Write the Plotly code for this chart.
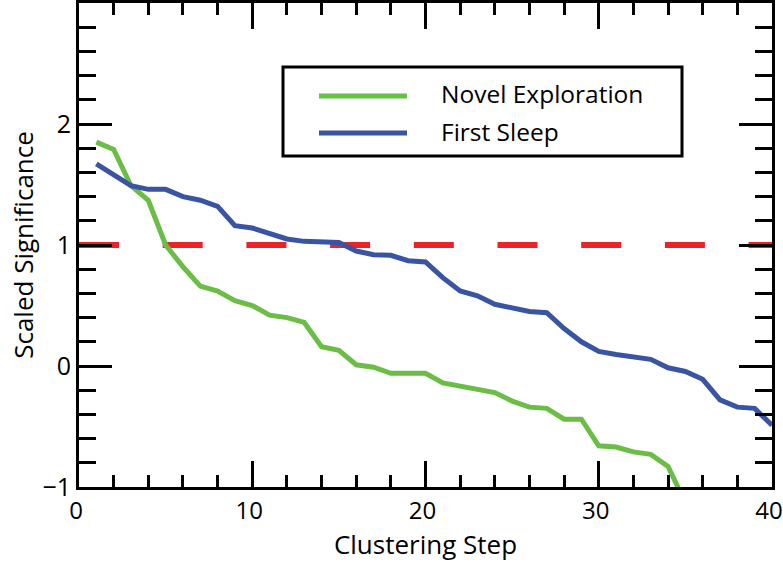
import plotly.graph_objects as go

# Data
steps_novel = list(range(1, 36))
novel_exploration = [1.85, 1.79, 1.49, 1.37, 1.00, 0.82, 0.66, 0.62, 0.54, 0.50,
                     0.42, 0.40, 0.36, 0.16, 0.13, 0.01, -0.01, -0.06, -0.06, -0.06,
                     -0.14, -0.17, -0.19, -0.22, -0.29, -0.34, -0.35, -0.44, -0.44, -0.66,
                     -0.67, -0.71, -0.73, -0.83, -1.13]
steps_sleep = list(range(1, 41))
first_sleep = [1.67, 1.58, 1.49, 1.46, 1.46, 1.40, 1.37, 1.32, 1.16, 1.14,
               1.10, 1.05, 1.03, 1.025, 1.02, 0.95, 0.92, 0.915, 0.87, 0.86,
               0.73, 0.62, 0.58, 0.51, 0.48, 0.45, 0.44, 0.31, 0.20, 0.12,
               0.095, 0.07, 0.055, -0.015, -0.045, -0.11, -0.28, -0.34, -0.35, -0.49]
threshold_x = [0, 40]
threshold_y = [1, 1]
series_names = ["Novel Exploration", "First Sleep"]
x_tickvals = [0, 10, 20, 30, 40]
y_tickvals = [-1, 0, 1, 2]

GREEN = "#6abd45"
BLUE = "#3a54a4"
RED = "#ec2227"
FONT = "Open Sans"

fig = go.Figure()
fig.add_trace(go.Scatter(x=threshold_x, y=threshold_y, mode="lines",
                         line=dict(color=RED, width=6, dash="40px,43.7px"),
                         showlegend=False, hoverinfo="skip"))
fig.add_trace(go.Scatter(x=steps_novel, y=novel_exploration, mode="lines",
                         name=series_names[0], line=dict(color=GREEN, width=5),
                         showlegend=False))
fig.add_trace(go.Scatter(x=steps_sleep, y=first_sleep, mode="lines",
                         name=series_names[1], line=dict(color=BLUE, width=5),
                         showlegend=False))

# Manual legend (pixel layout converted to axis-domain fractions)
L, T, W, H = 79, 3, 693, 484
def fx(px):
    return (px - L) / W
def fy(py):
    return (T + H - py) / H

fig.add_shape(type="rect", xref="x domain", yref="y domain",
              x0=fx(283), x1=fx(682), y0=fy(156), y1=fy(67),
              line=dict(color="black", width=3), fillcolor="white", layer="above")
for col, ypx, name in [(GREEN, 96, series_names[0]), (BLUE, 133, series_names[1])]:
    fig.add_shape(type="line", xref="x domain", yref="y domain",
                  x0=fx(319), x1=fx(407), y0=fy(ypx), y1=fy(ypx),
                  line=dict(color=col, width=5), layer="above")
    fig.add_annotation(xref="x domain", yref="y domain", x=fx(439), y=fy(ypx - 2),
                       text=name, showarrow=False, xanchor="left", yanchor="middle",
                       font=dict(family=FONT, size=24.5, color="black"))

fig.update_xaxes(range=[0, 40.0001], tickvals=x_tickvals, ticks="inside", ticklen=26,
                 tickwidth=2.5, tickcolor="black", showline=True, linecolor="black",
                 linewidth=3, mirror="ticks", showgrid=False, zeroline=False,
                 ticklabeloverflow="allow", automargin=False, ticklabelshift=-3,
                 minor=dict(dtick=2, tick0=0, ticks="inside", ticklen=12,
                            tickwidth=2.5, tickcolor="black", showgrid=False),
                 tickfont=dict(family=FONT, size=24, color="black"),
                 title=dict(text="Clustering Step", standoff=6,
                            font=dict(family=FONT, size=26, color="black")))
fig.update_yaxes(range=[-1, 3], tickvals=y_tickvals, ticks="inside", ticklen=33,
                 tickwidth=2.5, tickcolor="black", showline=True, linecolor="black",
                 linewidth=3, mirror="ticks", showgrid=False, zeroline=False,
                 automargin=False,
                 minor=dict(dtick=0.2, tick0=0, ticks="inside", ticklen=17,
                            tickwidth=2.5, tickcolor="black", showgrid=False),
                 tickfont=dict(family=FONT, size=25, color="black"),
                 title=dict(text="Scaled Significance", standoff=2,
                            font=dict(family=FONT, size=26, color="black")))

fig.update_layout(width=783, height=562, margin=dict(l=79, r=11, t=3, b=75),
                  plot_bgcolor="white", paper_bgcolor="white", showlegend=False)

fig.write_html("out.html")
